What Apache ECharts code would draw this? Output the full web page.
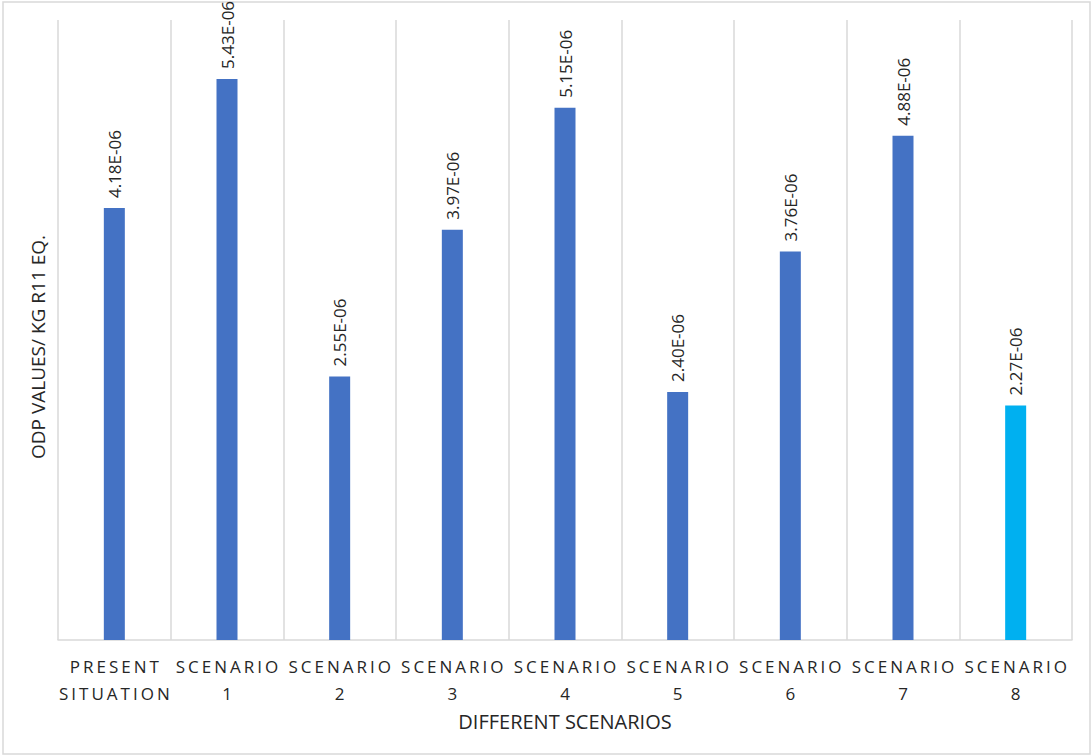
<!DOCTYPE html>
<html>
<head>
<meta charset="utf-8">
<style>
  html, body { margin: 0; padding: 0; background: #fff; }
  #chart { width: 1092px; height: 756px; }
</style>
<script src="https://cdn.jsdelivr.net/npm/echarts@6/dist/echarts.min.js"></script>
</head>
<body>
<div id="chart"></div>
<script>
// ODP per scenario, kg R11 eq.
const categories = [
  'PRESENT\nSITUATION', 'SCENARIO\n1', 'SCENARIO\n2', 'SCENARIO\n3', 'SCENARIO\n4',
  'SCENARIO\n5', 'SCENARIO\n6', 'SCENARIO\n7', 'SCENARIO\n8'
];
const odpValues = [4.18e-6, 5.43e-6, 2.55e-6, 3.97e-6, 5.15e-6, 2.40e-6, 3.76e-6, 4.88e-6, 2.27e-6];
const barColors = ['#4472C4', '#4472C4', '#4472C4', '#4472C4', '#4472C4', '#4472C4', '#4472C4', '#4472C4', '#00B0F0'];
const yMax = 6e-6;

// Spreadsheet-style scientific notation, e.g. 4.18E-06
function sci(v) {
  const [m, e] = v.toExponential(2).toUpperCase().split('E');
  const n = parseInt(e, 10);
  const sign = n < 0 ? '-' : '+';
  return m + 'E' + sign + String(Math.abs(n)).padStart(2, '0');
}

const font = '"Open Sans", "DejaVu Sans", sans-serif';
const el = document.getElementById('chart');
const chart = echarts.init(el, null, { renderer: 'svg' });
chart.setOption({
  animation: false,
  backgroundColor: '#ffffff',
  graphic: [{
    type: 'rect',
    shape: { x: 3, y: 2, width: 1087, height: 752 },
    style: { fill: 'none', stroke: '#D9D9D9', lineWidth: 1.5 },
    silent: true
  }],
  grid: { left: 58, right: 20, top: 20, bottom: 116 },
  xAxis: {
    type: 'category',
    data: categories,
    name: 'DIFFERENT SCENARIOS',
    nameLocation: 'middle',
    nameGap: 71,
    nameTextStyle: { fontFamily: font, fontSize: 20, color: '#262626' },
    axisLine: { show: true, lineStyle: { color: '#D9D9D9', width: 1.5 } },
    axisTick: { show: false },
    splitLine: { show: true, interval: 0, lineStyle: { color: '#D9D9D9', width: 1.5 } },
    axisLabel: {
      interval: 0,
      margin: 13,
      fontFamily: font,
      fontSize: 17,
      lineHeight: 27,
      color: '#262626'
    }
  },
  yAxis: {
    type: 'value',
    min: 0,
    max: yMax,
    name: 'ODP VALUES/ KG R11 EQ.',
    nameLocation: 'middle',
    nameGap: 11,
    nameRotate: 90,
    nameTextStyle: { fontFamily: font, fontSize: 19, color: '#262626', padding: [0, 34, 0, 0] },
    axisLine: { show: false },
    axisTick: { show: false },
    axisLabel: { show: false },
    splitLine: { show: false }
  },
  series: [{
    type: 'bar',
    data: odpValues.map((v, i) => ({ value: v, itemStyle: { color: barColors[i] } })),
    barWidth: 21,
    label: {
      show: true,
      position: 'top',
      rotate: 90,
      align: 'left',
      verticalAlign: 'middle',
      distance: 10,
      fontFamily: font,
      fontSize: 17,
      color: '#262626',
      formatter: p => sci(p.value)
    }
  }]
});

// Tracked (letter-spaced) category labels
const labelLines = new Set(categories.flatMap(c => c.split('\n')));
function spaceCategoryLabels() {
  el.querySelectorAll('text').forEach(t => {
    if (labelLines.has(t.textContent.trim())) {
      t.setAttribute('letter-spacing', '3');
      t.setAttribute('dx', '1.5');
    }
  });
}
spaceCategoryLabels();
chart.on('finished', spaceCategoryLabels);
</script>
</body>
</html>
